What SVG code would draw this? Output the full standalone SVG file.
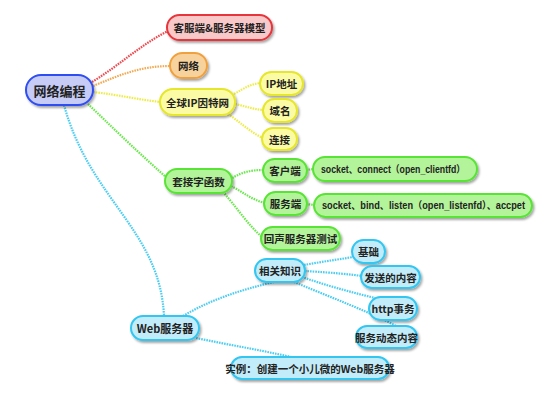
<svg xmlns="http://www.w3.org/2000/svg" width="554" height="404" viewBox="0 0 554 404">
<defs>
<filter id="sh" x="-20%" y="-30%" width="140%" height="170%">
<feDropShadow dx="1.5" dy="2" stdDeviation="1.2" flood-color="#000" flood-opacity="0.35"/>
</filter>
<style>
.n rect{stroke-width:2;filter:url(#sh)}
.n text{font-family:"Noto Sans CJK SC","Liberation Sans",sans-serif;font-weight:bold;font-size:10.5px;fill:#222;text-anchor:middle;dominant-baseline:central}
.n text.lat{font-family:"Liberation Sans","Noto Sans CJK SC",sans-serif;font-size:10px}
.blue rect{fill:#c6ccf6;stroke:#2f4df2}
.red rect{fill:#f9c9c9;stroke:#e8343a}
.orange rect{fill:#f8d29c;stroke:#f0a13e}
.yellow rect{fill:#fbfba6;stroke:#e6e62a}
.green rect{fill:#b3f39a;stroke:#58e435}
.cyan rect{fill:#c2ecf9;stroke:#31c6f1}
.c path{fill:none;stroke-width:2.2;stroke-dasharray:1.6 1}
.cr{stroke:#ee4a50}.co{stroke:#f2ab55}.cy{stroke:#eded4a}.cg{stroke:#6be84e}.cc{stroke:#4ccdf2}
</style>
</defs>
<rect width="554" height="404" fill="#fff"/>
<g id="connectors" class="c">
<path class="cr" d="M92,82 C120,65 140,45 168,31"/>
<path class="co" d="M93,86 C120,75 140,66 171,66"/>
<path class="cy" d="M93,92 C120,95 140,100 161,102"/>
<path class="cg" d="M88,104 C110,125 130,145 167,178"/>
<path class="cc" d="M64,105 C90,200 160,230 164,316"/>
<path class="cy" d="M234,94 C245,88 250,84 261,83"/>
<path class="cy" d="M235,104 C245,106 252,109 263,110"/>
<path class="cy" d="M228,114 C240,122 250,132 263,138"/>
<path class="cg" d="M232,178 C243,172 250,170 264,170"/>
<path class="cg" d="M231,186 C243,192 252,200 265,203"/>
<path class="cg" d="M223,192 C235,205 248,225 262,237"/>
<path class="cg" d="M306,170 L314,169"/>
<path class="cg" d="M306,204 L315,205"/>
<path class="cc" d="M183,316 C210,300 240,290 274,282"/>
<path class="cc" d="M196,338 C230,345 260,350 296,358"/>
<path class="cc" d="M304,265 C320,262 335,260 353,257"/>
<path class="cc" d="M305,271 C320,272 340,273 362,276"/>
<path class="cc" d="M302,277 C325,285 350,292 375,298"/>
<path class="cc" d="M294,282 C330,297 370,312 398,327"/>
</g>
<g id="n-root" class="n blue"><rect x="26" y="75" width="67" height="30" rx="15"/><text x="59.5" y="90" style="font-size:13px">网络编程</text></g>
<g id="n-model" class="n red"><rect x="167" y="15" width="105" height="25" rx="12.5"/><text x="219.5" y="27.5">客服端&amp;服务器模型</text></g>
<g id="n-net" class="n orange"><rect x="170" y="53" width="37" height="25" rx="12.5"/><text x="188.5" y="65.5">网络</text></g>
<g id="n-ip" class="n yellow"><rect x="160" y="89" width="75" height="26" rx="13"/><text x="197.5" y="102">全球IP因特网</text></g>
<g id="n-ipaddr" class="n yellow"><rect x="260" y="72" width="43" height="23" rx="11.5"/><text x="281.5" y="83.5">IP地址</text></g>
<g id="n-domain" class="n yellow"><rect x="263" y="99" width="34" height="23" rx="11.5"/><text x="280" y="110.5">域名</text></g>
<g id="n-conn" class="n yellow"><rect x="262" y="128" width="35" height="22" rx="11"/><text x="279.5" y="139">连接</text></g>
<g id="n-socket" class="n green"><rect x="165" y="169" width="67" height="24" rx="12"/><text x="198.5" y="181">套接字函数</text></g>
<g id="n-client" class="n green"><rect x="263" y="159" width="44" height="23" rx="11.5"/><text x="285" y="170.5">客户端</text></g>
<g id="n-clientfn" class="n green"><rect x="313" y="157" width="164" height="24" rx="12"/><text class="lat" x="393" y="169" textLength="144" lengthAdjust="spacingAndGlyphs">socket、connect（open_clientfd）</text></g>
<g id="n-server" class="n green"><rect x="264" y="192" width="43" height="23" rx="11.5"/><text x="285.5" y="203.5">服务端</text></g>
<g id="n-serverfn" class="n green"><rect x="314" y="194" width="218" height="23" rx="11.5"/><text class="lat" x="423.5" y="205.5" textLength="203" lengthAdjust="spacingAndGlyphs">socket、bind、listen（open_listenfd）、accpet</text></g>
<g id="n-echo" class="n green"><rect x="261" y="227" width="79" height="23" rx="11.5"/><text x="300.5" y="238.5">回声服务器测试</text></g>
<g id="n-basic" class="n cyan"><rect x="352" y="240" width="33" height="23" rx="11.5"/><text x="368.5" y="251.5">基础</text></g>
<g id="n-related" class="n cyan"><rect x="255" y="259" width="50" height="23" rx="11.5"/><text x="280" y="270.5">相关知识</text></g>
<g id="n-send" class="n cyan"><rect x="361" y="266" width="59" height="22" rx="11"/><text x="390.5" y="277">发送的内容</text></g>
<g id="n-http" class="n cyan"><rect x="369" y="297" width="48" height="23" rx="11.5"/><text x="393" y="308.5">http事务</text></g>
<g id="n-dynamic" class="n cyan"><rect x="356" y="326" width="61" height="22" rx="11"/><text x="386.5" y="337">服务动态内容</text></g>
<g id="n-web" class="n cyan"><rect x="131" y="316" width="68" height="24" rx="12"/><text x="165" y="328" style="font-size:11px">Web服务器</text></g>
<g id="n-example" class="n cyan"><rect x="231" y="357" width="158" height="22" rx="11"/><text x="310" y="368">实例：创建一个小儿微的Web服务器</text></g>
</svg>
